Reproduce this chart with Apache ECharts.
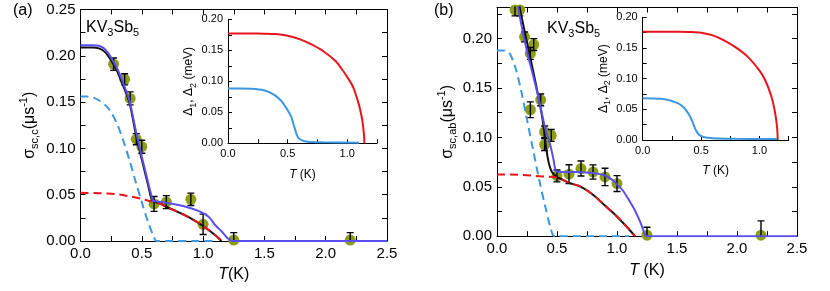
<!DOCTYPE html>
<html><head><meta charset="utf-8">
<script src="https://cdn.jsdelivr.net/npm/echarts@6/dist/echarts.min.js"></script>
<style>html,body{margin:0;padding:0;background:#fff}#c{width:830px;height:291px}</style>
</head><body><div id="c"></div>
<script>
// ---------- Panel (a): sigma_sc,c ----------
const aT      = [0.27, 0.36, 0.405, 0.455, 0.50, 0.60, 0.70, 0.90, 1.00, 1.25, 2.20];
const aSigma  = [0.191, 0.1746, 0.154, 0.110, 0.1018, 0.0400, 0.0420, 0.045, 0.018, 0.001, 0.001];
const aErr    = [0.0067, 0.006, 0.007, 0.006, 0.007, 0.008, 0.007, 0.0067, 0.011, 0.008, 0.008];
const aTotalFit = [[0,0.209],[0.1,0.209],[0.15,0.208],[0.2,0.204],[0.25,0.195],[0.3,0.183],[0.35,0.167],[0.4,0.149],[0.45,0.116],[0.5,0.088],[0.55,0.061],[0.575,0.047],[0.585,0.0435],[0.65,0.0405],[0.7,0.037],[0.8,0.031],[0.9,0.0245],[1.0,0.0162],[1.1,0.0062],[1.15,0]];
const aAltFit   = [[0,0.2115],[0.1,0.2115],[0.15,0.2108],[0.2,0.207],[0.25,0.198],[0.3,0.186],[0.35,0.17],[0.4,0.151],[0.45,0.12],[0.5,0.091],[0.55,0.064],[0.58,0.048],[0.59,0.0435],[0.6,0.0432],[0.7,0.0414],[0.8,0.0389],[0.9,0.0353],[0.95,0.033],[1.0,0.030],[1.05,0.0255],[1.1,0.017],[1.15,0.0105],[1.2,0.003],[1.235,0],[1.25,0],[2.5,0]];
const aGap2Comp = [[0,0.156],[0.05,0.156],[0.1,0.155],[0.15,0.152],[0.2,0.147],[0.25,0.139],[0.3,0.126],[0.35,0.108],[0.4,0.087],[0.45,0.064],[0.5,0.042],[0.55,0.021],[0.6,0.004],[0.62,0],[1.1,0]];
const aGap1Comp = [[0,0.052],[0.1,0.0519],[0.2,0.0514],[0.3,0.0505],[0.4,0.0482],[0.5,0.0455],[0.58,0.0425],[0.65,0.0402],[0.7,0.037],[0.8,0.031],[0.9,0.0245],[1.0,0.0162],[1.1,0.0062],[1.15,0]];
const aDelta1 = [[0,0.177],[0.2,0.177],[0.3,0.1768],[0.4,0.1762],[0.5,0.1735],[0.6,0.168],[0.7,0.1595],[0.8,0.1485],[0.9,0.133],[0.95,0.121],[1.0,0.107],[1.05,0.0905],[1.1,0.061],[1.12,0.044],[1.13,0.033],[1.14,0.015],[1.145,0]];
const aDelta2 = [[0,0.0885],[0.1,0.0885],[0.2,0.0878],[0.3,0.0855],[0.35,0.082],[0.4,0.0765],[0.45,0.0675],[0.5,0.0535],[0.53,0.043],[0.56,0.024],[0.58,0.0125],[0.6,0.007],[0.65,0.003],[0.7,0.002],[0.8,0.0015],[1.1,0.001]];

// ---------- Panel (b): sigma_sc,ab ----------
const bT      = [0.15, 0.19, 0.23, 0.306, 0.278, 0.364, 0.278, 0.397, 0.452, 0.397, 0.50, 0.60, 0.70, 0.80, 0.90, 1.00, 1.25, 2.20];
const bSigma  = [0.229, 0.229, 0.2017, 0.194, 0.185, 0.138, 0.128, 0.1056, 0.102, 0.0928, 0.061, 0.0628, 0.0685, 0.065, 0.060, 0.0533, 0.001, 0.001];
const bErr    = [0.006, 0.006, 0.005, 0.006, 0.006, 0.006, 0.008, 0.006, 0.006, 0.006, 0.006, 0.0095, 0.0076, 0.0072, 0.0088, 0.008, 0.008, 0.0145];
const bTotalFit = [[0.15,0.255],[0.2,0.225],[0.25,0.196],[0.3,0.168],[0.35,0.138],[0.38,0.118],[0.41,0.089],[0.43,0.075],[0.45,0.067],[0.47,0.0632],[0.5,0.0598],[0.55,0.057],[0.6,0.054],[0.7,0.050],[0.8,0.042],[0.9,0.031],[1.0,0.020],[1.1,0.007],[1.15,0]];
const bAltFit   = [[0.12,0.27],[0.15,0.25],[0.2,0.216],[0.25,0.187],[0.3,0.163],[0.35,0.138],[0.4,0.11],[0.44,0.094],[0.47,0.078],[0.485,0.068],[0.495,0.0656],[0.6,0.065],[0.7,0.0648],[0.8,0.064],[0.9,0.0615],[0.95,0.058],[1.0,0.0525],[1.05,0.046],[1.1,0.0365],[1.15,0.026],[1.2,0.0125],[1.225,0.004],[1.24,0],[1.26,0],[2.5,0]];
const bGap2Comp = [[0,0.188],[0.05,0.188],[0.1,0.186],[0.15,0.172],[0.2,0.148],[0.25,0.118],[0.3,0.088],[0.35,0.058],[0.4,0.031],[0.45,0.007],[0.48,0],[1.1,0]];
const bGap1Comp = [[0,0.0625],[0.1,0.0625],[0.2,0.062],[0.3,0.0612],[0.4,0.0603],[0.5,0.0595],[0.55,0.057],[0.6,0.054],[0.7,0.050],[0.8,0.042],[0.9,0.031],[1.0,0.020],[1.1,0.007],[1.15,0]];
const bDelta1 = [[0,0.1765],[0.3,0.1765],[0.4,0.176],[0.5,0.1748],[0.6,0.1705],[0.7,0.162],[0.8,0.1505],[0.9,0.1355],[1.0,0.113],[1.05,0.097],[1.1,0.072],[1.13,0.048],[1.15,0.022],[1.156,0]];
const bDelta2 = [[0,0.068],[0.1,0.0678],[0.15,0.0672],[0.2,0.066],[0.25,0.0635],[0.3,0.06],[0.35,0.0535],[0.4,0.0405],[0.43,0.028],[0.45,0.018],[0.48,0.009],[0.52,0.005],[0.6,0.003],[0.8,0.002],[1.15,0.0015]];

const mainXTicks = {min:0, max:2.5, interval:0.25};
const insetXTicks = {min:0, max:1.25, interval:0.25};

const FONT = 'Arial, "Liberation Sans", sans-serif';
const C_BLACK='#111', C_PURPLE='#5a4ef2', C_RED='#e8141c', C_BLUE='#3b97e2', C_DOT='#8d9e16';

const fx = v => (Math.round(v*100) % 50 === 0) ? v.toFixed(1) : '';
const fy = v => (Math.round(v*1000) % 50 === 0) ? v.toFixed(2) : '';

function xAx(grid, ticks, pos, labels, fs, tickLen, name, nameGap, nameFs){
  return {type:'value', gridIndex:grid, position:pos, min:ticks.min, max:ticks.max, interval:ticks.interval,
    splitLine:{show:false},
    axisLine:{show:true, onZero:false, lineStyle:{color:'#000', width:1}},
    axisTick:{show:true, inside:true, length:tickLen, lineStyle:{color:'#000', width:1}},
    axisLabel:{show:labels, interval:0, formatter:fx, color:'#000', fontFamily:FONT, fontSize:fs, margin:5},
    name: name||'', nameLocation:'middle', nameGap:nameGap||0,
    nameTextStyle:{rich:{
      i:{fontStyle:'italic', fontSize:nameFs, fontFamily:FONT, color:'#000'},
      n:{fontSize:nameFs, fontFamily:FONT, color:'#000'}}}};
}
function yAx(grid, min, max, pos, labels, fs, tickLen, name, nameGap, nameFs, subFs){
  return {type:'value', gridIndex:grid, position:pos, min:min, max:max, interval:0.025,
    splitLine:{show:false},
    axisLine:{show:true, onZero:false, lineStyle:{color:'#000', width:1}},
    axisTick:{show:true, inside:true, length:tickLen, lineStyle:{color:'#000', width:1}},
    axisLabel:{show:labels, interval:0, formatter:fy, color:'#000', fontFamily:FONT, fontSize:fs, margin:5},
    name: name||'', nameLocation:'middle', nameGap:nameGap||0, nameRotate:90,
    nameTextStyle:{rich:{
      n:{fontSize:nameFs, fontFamily:FONT, color:'#000', lineHeight:nameFs+6},
      sub:{fontSize:subFs, fontFamily:FONT, color:'#000', lineHeight:subFs, verticalAlign:'bottom'},
      sup:{fontSize:subFs, fontFamily:FONT, color:'#000', lineHeight:subFs, verticalAlign:'top'}}}};
}

function line(data, xi, yi, color, dashed, z){
  return {type:'line', xAxisIndex:xi, yAxisIndex:yi, data:data, symbol:'none', smooth:0.3,
    lineStyle:{color:color, width:2, type: dashed ? [8,5] : 'solid'}, z:z, silent:true, clip:true};
}
function dots(T, S, xi, yi){
  return {type:'scatter', xAxisIndex:xi, yAxisIndex:yi, data:T.map((t,i)=>[t,S[i]]),
    symbol:'circle', symbolSize:11, itemStyle:{color:C_DOT, opacity:1}, z:2, silent:true};
}
function errBars(T, S, E, xi, yi){
  return {type:'custom', xAxisIndex:xi, yAxisIndex:yi, data:T.map((t,i)=>[t,S[i],E[i]]),
    encode:{x:0, y:1}, z:3, silent:true,
    renderItem:function(params, api){
      const t=api.value(0), s=api.value(1), e=api.value(2);
      const hi=api.coord([t, s+e]), lo=api.coord([t, s-e]);
      const w=3.5, st={stroke:'#000', lineWidth:1.4};
      const cs=params.coordSys;
      return {type:'group', clipPath:{type:'rect', shape:{x:cs.x, y:cs.y-1, width:cs.width, height:cs.height+1}},
        children:[
        {type:'line', shape:{x1:hi[0],y1:hi[1],x2:lo[0],y2:lo[1]}, style:st},
        {type:'line', shape:{x1:hi[0]-w,y1:hi[1],x2:hi[0]+w,y2:hi[1]}, style:st},
        {type:'line', shape:{x1:lo[0]-w,y1:lo[1],x2:lo[0]+w,y2:lo[1]}, style:st}]};
    }};
}

const option = {
  animation:false,
  backgroundColor:'#fff',
  grid:[
    {left:80.5, top:9.5, width:306.5, height:231.5},
    {left:228, top:19.3, width:149, height:124},
    {left:497, top:7.5, width:300, height:228.7},
    {left:642.7, top:17.3, width:146, height:122.7}
  ],
  xAxis:[
    xAx(0, mainXTicks, 'bottom', true, 15, 5, '{i|T}{n|(K)}', 26, 16),
    xAx(0, mainXTicks, 'top', false, 15, 5),
    xAx(1, insetXTicks, 'bottom', true, 11, 4, '{i|T}{n| (K)}', 25, 12),
    xAx(2, mainXTicks, 'bottom', true, 15, 5, '{i|T}{n| (K)}', 26, 16),
    xAx(2, mainXTicks, 'top', false, 15, 5),
    xAx(3, insetXTicks, 'bottom', true, 11, 4, '{i|T}{n| (K)}', 25, 12)
  ],
  yAxis:[
    yAx(0, 0, 0.25, 'left', true, 15, 5, '{n|σ}{sub|sc,c}{n|(μs}{sup|-1}{n|)}', 40, 16, 11),
    yAx(0, 0, 0.25, 'right', false, 15, 5),
    yAx(1, 0, 0.2, 'left', true, 11, 4, '{n|Δ}{sub|1}{n|, Δ}{sub|2}{n| (meV)}', 29, 12, 9),
    yAx(2, 0, 0.2315, 'left', true, 15, 5, '{n|σ}{sub|sc,ab}{n|(μs}{sup|-1}{n|)}', 36, 16, 11),
    yAx(2, 0, 0.2315, 'right', false, 15, 5),
    yAx(3, 0, 0.2, 'left', true, 11, 4, '{n|Δ}{sub|1}{n|, Δ}{sub|2}{n| (meV)}', 25, 12, 9)
  ],
  series:[
    dots(aT, aSigma, 0, 0),
    errBars(aT, aSigma, aErr, 0, 0),
    line(aTotalFit, 0, 0, C_BLACK, false, 4),
    line(aGap1Comp, 0, 0, C_RED, true, 5),
    line(aGap2Comp, 0, 0, C_BLUE, true, 5),
    line(aAltFit, 0, 0, C_PURPLE, false, 6),
    line(aDelta1, 2, 2, C_RED, false, 4),
    line(aDelta2, 2, 2, C_BLUE, false, 4),

    dots(bT, bSigma, 3, 3),
    errBars(bT, bSigma, bErr, 3, 3),
    line(bTotalFit, 3, 3, C_BLACK, false, 4),
    line(bGap1Comp, 3, 3, C_RED, true, 5),
    line(bGap2Comp, 3, 3, C_BLUE, true, 5),
    line(bAltFit, 3, 3, C_PURPLE, false, 6),
    line(bDelta1, 5, 5, C_RED, false, 4),
    line(bDelta2, 5, 5, C_BLUE, false, 4)
  ],
  graphic:[
    {type:'text', left:13, top:3, style:{text:'(a)', font:'16px '+FONT, fill:'#000'}},
    {type:'text', left:434, top:3, style:{text:'(b)', font:'16px '+FONT, fill:'#000'}},
    {type:'text', left:86, top:20, style:{text:'{n|KV}{s|3}{n|Sb}{s|5}', fill:'#000',
      rich:{n:{fontSize:16, fontFamily:FONT, lineHeight:20}, s:{fontSize:11, fontFamily:FONT, lineHeight:11, verticalAlign:'bottom'}}}},
    {type:'text', left:547, top:21, style:{text:'{n|KV}{s|3}{n|Sb}{s|5}', fill:'#000',
      rich:{n:{fontSize:16, fontFamily:FONT, lineHeight:20}, s:{fontSize:11, fontFamily:FONT, lineHeight:11, verticalAlign:'bottom'}}}}
  ]
};
const chart = echarts.init(document.getElementById('c'), null, {renderer:'canvas'});
chart.setOption(option);
</script></body></html>
